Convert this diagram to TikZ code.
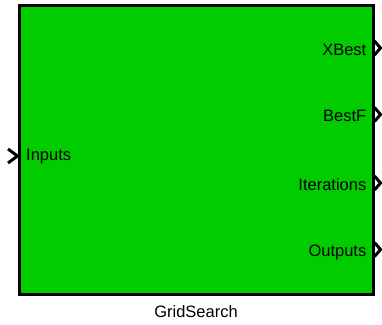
\documentclass[tikz,border=0pt]{standalone}
\usepackage{fontspec}
\setmainfont{Liberation Sans}
\usepackage{tikz}
\definecolor{blockgreen}{RGB}{0,204,0}
\tikzset{
  portlbl/.style={font=\fontsize{16.5}{19}\selectfont, inner sep=0pt},
  chev/.style={line width=3pt, line join=miter},
}

\begin{document}
\begin{tikzpicture}[x=1pt,y=-1pt]
      \useasboundingbox (0,0) rectangle (382,324);
      \node (blk) [draw, line width=3pt, fill=blockgreen, inner sep=0pt, outer sep=0pt,
        minimum width=354pt, minimum height=288.5pt, anchor=north west] at (19,5.5) {};
      \node[portlbl, anchor=base] (title) at (blk.south |- 0,317) {GridSearch};

      \node[portlbl, anchor=base west] (inLbl) at (26,160.5) {Inputs};
      \draw [chev] (8,149) -- (17.5,156) -- (8,163);

      \node[portlbl, anchor=base east] (xbestLbl) at (366.5,55) {XBest};
      \draw [chev] (374.5,41) -- (380.5,48) -- (374.5,55);
      \node[portlbl, anchor=base east] (bestfLbl) at (366.5,121.5) {BestF};
      \draw [chev] (374.5,107.5) -- (380.5,114.5) -- (374.5,121.5);
      \node[portlbl, anchor=base east] (iterLbl) at (366.5,190) {Iterations};
      \draw [chev] (374.5,176) -- (380.5,183) -- (374.5,190);
      \node[portlbl, anchor=base east] (outLbl) at (366.5,256.5) {Outputs};
      \draw [chev] (374.5,242.5) -- (380.5,249.5) -- (374.5,256.5);
\end{tikzpicture}
\end{document}
